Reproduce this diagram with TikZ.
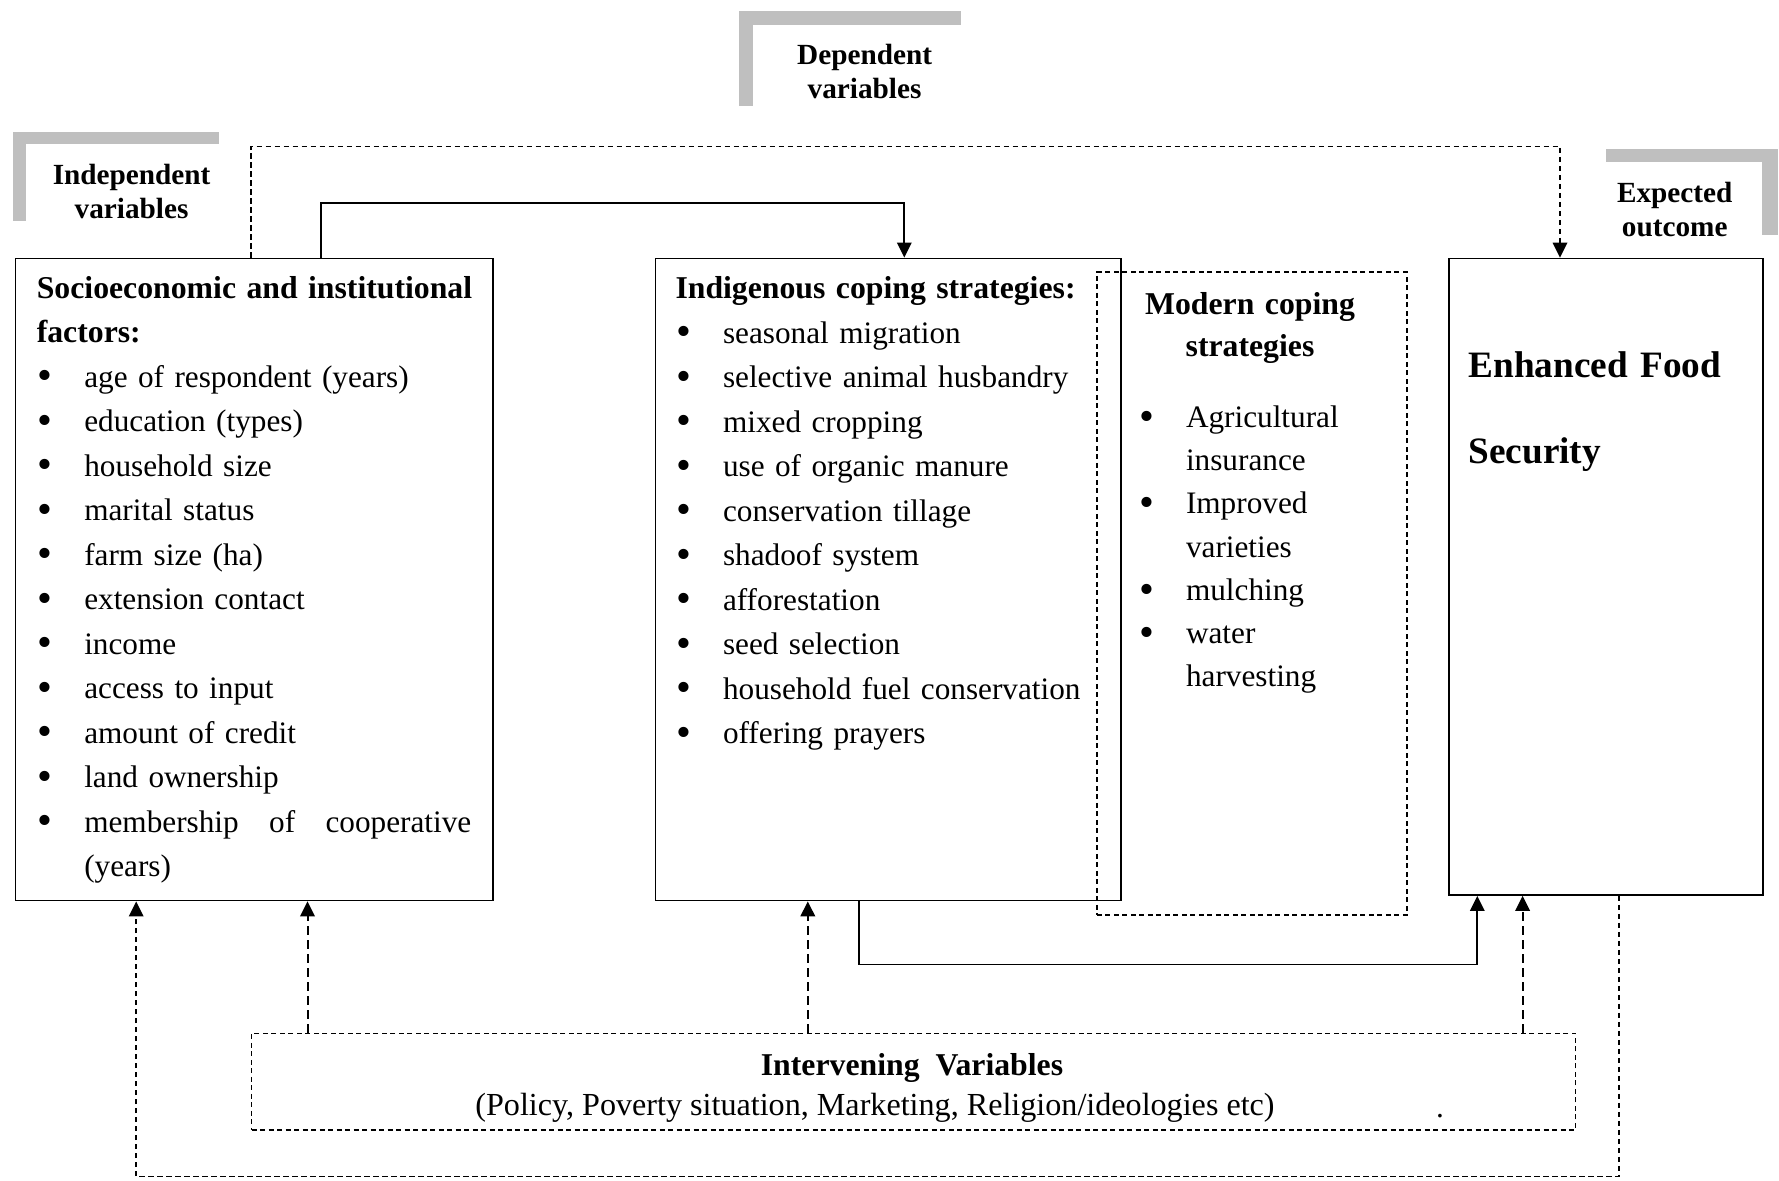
\documentclass[tikz,border=0pt]{standalone}
\usepackage{fontspec}
\setmainfont{Liberation Serif}
\usetikzlibrary{arrows.meta, positioning, calc}

\newcommand{\bul}{\makebox[19pt][l]{\hspace*{0.3pt}\raisebox{-1.1pt}{\fontsize{17}{0}\selectfont\textbullet}}}
\newcommand{\ind}{\hspace*{19pt}}

\begin{document}
\begin{tikzpicture}[x=0.4pt, y=-0.4pt,
  box/.style={rectangle, draw, line width=0.7pt, anchor=north west, inner sep=0},
  dbox/.style={box, line width=0.7pt, dash pattern=on 2pt off 1.4pt},
  arrow/.style={line width=0.7pt, -{Triangle[length=6pt, width=5.8pt]}},
  darrow/.style={arrow, line width=0.8pt, dash pattern=on 3.6pt off 2pt},
  larrow/.style={arrow, line width=0.7pt, dash pattern=on 2.2pt off 1.4pt},
  txt/.style={inner sep=0, anchor=base west, align=left,
              font=\fontsize{12.5}{17.8}\selectfont},
  bold/.style={font=\bfseries\fontsize{12.7}{17.8}\selectfont},
  tag/.style={inner sep=0, anchor=base, align=center, text width=80pt,
              font=\bfseries\fontsize{11.7}{13.6}\selectfont},
  brk/.style={fill=black!25}
]
\useasboundingbox (0,0) rectangle (1779,1180);

% grey corner brackets behind the tags
\fill[brk] (12.5,131.6) rectangle (219,144);
\fill[brk] (12.5,131.6) rectangle (26,221);
\fill[brk] (738.6,11.3) rectangle (961,25);
\fill[brk] (738.6,11.3) rectangle (753.4,105.5);
\fill[brk] (1605.5,148.6) rectangle (1778,162);
\fill[brk] (1762,148.6) rectangle (1778,235);

\node[tag] (indeplbl) at (131.6,184.9) {Independent\\variables};
\node[tag] (deplbl) at (864.6,64.7) {Dependent\\variables};
\node[tag] (explbl) at (1674.7,202) {Expected\\outcome};

\node[box, minimum width=191.1pt, minimum height=256.8pt] (socio) at (14.7,257.6) {};
\node[box, minimum width=186.1pt, minimum height=256.8pt] (indig) at (654.7,257.6) {};
\node[dbox, minimum width=123.9pt, minimum height=257.3pt] (modern) at (1096,271.2) {};
\node[box, minimum width=125.7pt, minimum height=254.6pt] (outcome) at (1447.8,257.6) {};
\node[dbox, minimum width=529.6pt, minimum height=38.6pt] (interv) at (250.7,1032.5) {};

\node[txt, text width=176pt] (sociotxt) at (36.3,298) {%
  \textbf{\fontsize{12.7}{17.8}\selectfont Socioeconomic and institutional}\\
  \textbf{\fontsize{12.7}{17.8}\selectfont factors:}\\
  \bul age of respondent (years)\\
  \bul education (types)\\
  \bul household size\\
  \bul marital status\\
  \bul farm size (ha)\\
  \bul extension contact\\
  \bul income\\
  \bul access to input\\
  \bul amount of credit\\
  \bul land ownership\\
  \bul\makebox[154.8pt][l]{membership\hfill of\hfill cooperative}\\
  \ind(years)};

\node[txt, text width=185pt] (indigtxt) at (675,298.5) {%
  \textbf{\fontsize{12.7}{17.8}\selectfont Indigenous coping strategies:}\\
  \bul seasonal migration\\
  \bul selective animal husbandry\\
  \bul mixed cropping\\
  \bul use of organic manure\\
  \bul conservation tillage\\
  \bul shadoof system\\
  \bul afforestation\\
  \bul seed selection\\
  \bul household fuel conservation\\
  \bul offering prayers};

\node[txt, anchor=base, align=center, text width=120pt,
      font=\bfseries\fontsize{12.7}{16.8}\selectfont]
    (modernhd) at (1250,314.4) {Modern coping\\strategies};
\node[txt, text width=110pt, font=\fontsize{12.5}{17.3}\selectfont]
    (moderntxt) at (1138,427.4) {%
  \bul Agricultural\\
  \ind insurance\\
  \bul Improved\\
  \ind varieties\\
  \bul mulching\\
  \bul water\\
  \ind harvesting};

\node[txt, text width=120pt, font=\bfseries\fontsize{14.9}{34.5}\selectfont]
    (outcometxt) at (1468,377.4) {Enhanced Food\\Security};

\node[txt, anchor=base, bold] (intervhd) at (912,1075) {Intervening\ \ Variables};
\node[txt, anchor=base, font=\fontsize{12.85}{17.8}\selectfont] (intervtxt) at (875,1115.4)
    {(Policy, Poverty situation, Marketing, Religion/ideologies etc)};
\node[txt, anchor=base] (intervdot) at (1440,1117) {.};

% routing points of the connectors
\coordinate (j0) at (321.1,203.1);
\coordinate (j1) at (904.3,203.1);
\coordinate (k0) at (250.7,146.4);
\coordinate (k1) at (1560,146.4);
\coordinate (m0) at (858.9,964.4);
\coordinate (m1) at (1477.3,964.4);
\coordinate (n0) at (1619.1,1176.6);
\coordinate (n1) at (136.2,1176.6);
\coordinate (ea) at (307.5,1000);
\coordinate (eb) at (807.8,1000);
\coordinate (ed) at (1522.6,1000);

\draw[arrow] (socio.north -| j0) |- (j1) -- (indig.north -| j1);
\draw[larrow] (socio.north -| k0) |- (k1) -- (outcome.north -| k1);
\draw[arrow] (indig.south -| m0) |- (m1) -- (outcome.south -| m1);
\draw[darrow] (interv.north -| ea) -- (socio.south -| ea);
\draw[darrow] (interv.north -| eb) -- (indig.south -| eb);
\draw[darrow] (interv.north -| ed) -- (outcome.south -| ed);
\draw[larrow] (outcome.south -| n0) |- (n1) -- (socio.south -| n1);
\end{tikzpicture}
\end{document}
